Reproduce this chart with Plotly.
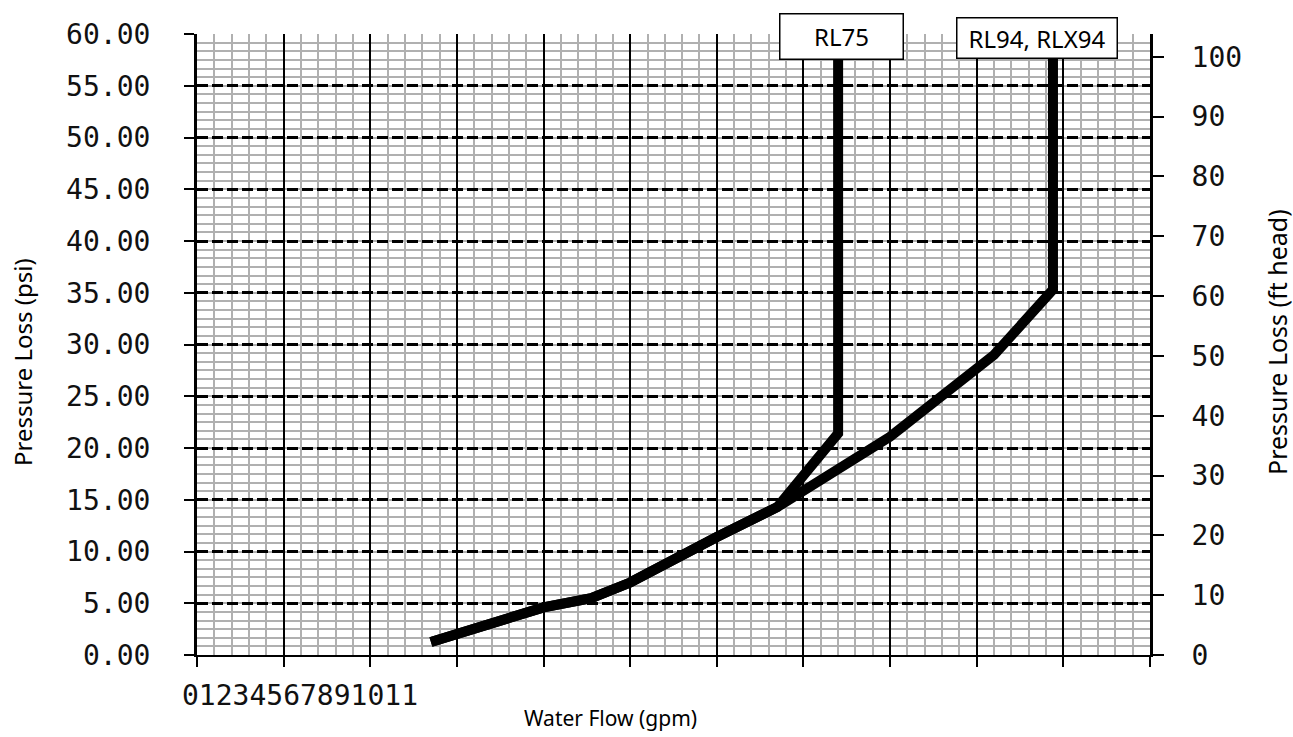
import plotly.graph_objects as go

# ---- data ----
rl94_flow = [2.7, 4.0, 4.55, 5.0, 6.0, 6.7, 8.0, 9.2, 9.88, 9.88]
rl94_psi = [1.25, 4.6, 5.5, 7.0, 11.4, 14.3, 21.1, 29.0, 35.3, 60.0]
rl75_flow = [2.7, 4.0, 4.55, 5.0, 6.0, 6.7, 7.4, 7.4]
rl75_psi = [1.25, 4.6, 5.5, 7.0, 11.4, 14.3, 21.4, 60.0]
x_tick_labels = [str(i) for i in range(0, 12)]
psi_ticks = [0, 5, 10, 15, 20, 25, 30, 35, 40, 45, 50, 55, 60]
ft_ticks = [0, 10, 20, 30, 40, 50, 60, 70, 80, 90, 100]
series_names = ["RL75", "RL94, RLX94"]
label_x = [7.44, 9.69]

W, H = 1293, 737
L, R, T, B = 197, 143, 34, 82
PW, PH = W - L - R, H - T - B

def px_x(p):
    return (p - L) / PW

def px_y(p):
    return (H - B - p) / PH

MONO = "DejaVu Sans Mono"
SANS = "Noto Sans"
MINOR_GRID = "#b0b0b0"

fig = go.Figure()
fig.add_trace(go.Scatter(x=rl94_flow, y=rl94_psi, mode="lines", name=series_names[1],
                         line=dict(color="black", width=10), showlegend=False))
fig.add_trace(go.Scatter(x=rl75_flow, y=rl75_psi, mode="lines", name=series_names[0],
                         line=dict(color="black", width=10), showlegend=False))
# invisible trace to activate the secondary axis
fig.add_trace(go.Scatter(x=[None], y=[None], yaxis="y2", showlegend=False, hoverinfo="skip"))

fig.update_layout(
    width=W, height=H,
    margin=dict(l=L, r=R, t=T, b=B),
    plot_bgcolor="white", paper_bgcolor="white",
    xaxis=dict(
        range=[0, 11], tickmode="array", tickvals=list(range(0, 12)),
        showticklabels=False, ticks="outside", ticklen=10, tickwidth=2, tickcolor="black",
        showgrid=True, gridcolor="black", gridwidth=2.4,
        showline=True, linecolor="black", linewidth=2, zeroline=False,
        minor=dict(dtick=0.2, showgrid=True, gridcolor=MINOR_GRID, gridwidth=2,
                   griddash="solid", ticks=""),
    ),
    yaxis=dict(
        range=[0, 60], tickmode="array", tickvals=psi_ticks,
        ticktext=["%.2f" % v for v in psi_ticks],
        tickfont=dict(family=MONO, size=28, color="#111111"),
        ticks="outside", ticklen=10, tickwidth=2, tickcolor="black",
        ticklabelstandoff=28,
        showgrid=True, gridcolor="black", gridwidth=2.6, griddash="11px,4px",
        showline=True, linecolor="black", linewidth=3, zeroline=False,
        minor=dict(dtick=5 / 6, showgrid=True, gridcolor=MINOR_GRID, gridwidth=2,
                   griddash="solid", ticks=""),
    ),
    yaxis2=dict(
        overlaying="y", side="right", range=[0, 103.8],
        tickmode="array", tickvals=ft_ticks, ticktext=[str(v) for v in ft_ticks],
        tickfont=dict(family=MONO, size=28, color="#111111"),
        ticks="outside", ticklen=11, tickwidth=2, tickcolor="black",
        ticklabelstandoff=22,
        showgrid=False, showline=True, linecolor="black", linewidth=3, zeroline=False,
    ),
)

annotations = []
# x tick labels, written run-together as in the reference
annotations.append(dict(text="".join(x_tick_labels), xref="paper", yref="paper",
                        x=px_x(180), y=px_y(695), xanchor="left", yanchor="middle",
                        showarrow=False, font=dict(family=MONO, size=28, color="#111111")))
# axis titles
annotations.append(dict(text="Water Flow (gpm)", xref="paper", yref="paper",
                        x=px_x(610), y=px_y(718), xanchor="center", yanchor="middle",
                        showarrow=False, font=dict(family=SANS, size=21, color="black")))
annotations.append(dict(text="Pressure Loss (psi)", xref="paper", yref="paper",
                        x=px_x(22), y=px_y(362), xanchor="center", yanchor="middle",
                        textangle=-90, showarrow=False, font=dict(family=SANS, size=24, color="black")))
annotations.append(dict(text="Pressure Loss (ft head)", xref="paper", yref="paper",
                        x=px_x(1277), y=px_y(342), xanchor="center", yanchor="middle",
                        textangle=-90, showarrow=False, font=dict(family=SANS, size=25, color="black")))
# series labels in boxes
annotations.append(dict(text=series_names[0], xref="x", yref="paper", x=label_x[0], y=px_y(36),
                        xanchor="center", yanchor="middle", showarrow=False,
                        width=120, height=42, borderpad=1, borderwidth=1.5,
                        bordercolor="black", bgcolor="white",
                        font=dict(family=SANS, size=24, color="black")))
annotations.append(dict(text=series_names[1], xref="x", yref="paper", x=label_x[1], y=px_y(37.5),
                        xanchor="center", yanchor="middle", showarrow=False,
                        width=157, height=37, borderpad=1, borderwidth=1.5,
                        bordercolor="black", bgcolor="white",
                        font=dict(family=SANS, size=24, color="black")))
fig.update_layout(annotations=annotations)

fig.write_html("out.html")
